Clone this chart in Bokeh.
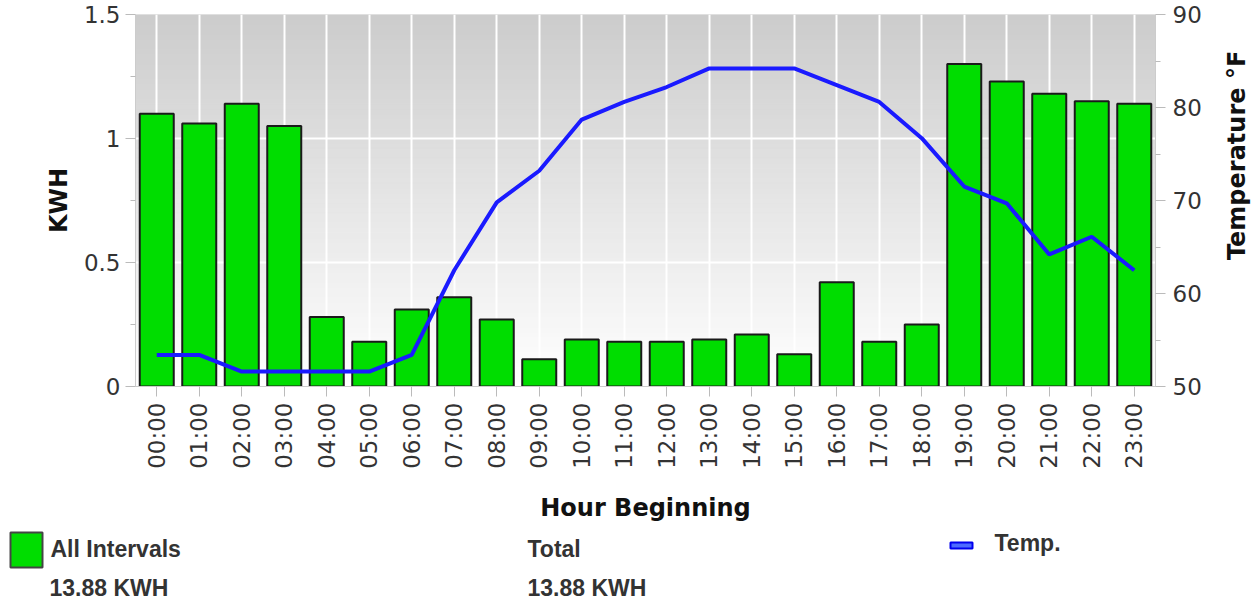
import math
from bokeh.plotting import figure
from bokeh.models import (LinearAxis, Range1d, FixedTicker, CustomJSTickFormatter,
                          FactorRange, ColumnDataSource)
from bokeh.layouts import column, row
from bokeh.core.properties import value
from bokeh.embed import file_html
from bokeh.resources import INLINE

# ---------------- data ----------------
hours = ["00:00", "01:00", "02:00", "03:00", "04:00", "05:00", "06:00", "07:00",
         "08:00", "09:00", "10:00", "11:00", "12:00", "13:00", "14:00", "15:00",
         "16:00", "17:00", "18:00", "19:00", "20:00", "21:00", "22:00", "23:00"]
kwh = [1.10, 1.06, 1.14, 1.05, 0.28, 0.18, 0.31, 0.36, 0.27, 0.11, 0.19, 0.18,
       0.18, 0.19, 0.21, 0.13, 0.42, 0.18, 0.25, 1.30, 1.23, 1.18, 1.15, 1.14]
temps = [53.4, 53.4, 51.6, 51.6, 51.6, 51.6, 53.4, 62.5, 69.8, 73.2, 78.7, 80.6,
         82.2, 84.2, 84.2, 84.2, 82.4, 80.6, 76.7, 71.5, 69.7, 64.2, 66.1, 62.5]
kwh_ticks = [0, 0.5, 1, 1.5]
kwh_minor = [0.25, 0.75, 1.25]
temp_ticks = [50, 60, 70, 80, 90]
temp_minor = [55, 65, 75, 85]
series_name = "All Intervals"
total_label = "Total"
total_kwh = "13.88 KWH"
line_name = "Temp."
temp_title = "Temperature °F"

# ---------------- style ----------------
W = 1252
STRIP_W = 40
MAIN_H = 528
LEG_H = 72
TICK_FONT = "DejaVu Sans"
TITLE_FONT = "DejaVu Sans"
LEG_FONT = "Liberation Sans"
GREEN = "#00dd00"
BLUE = "#1a1aff"

p = figure(width=W - STRIP_W, height=MAIN_H, x_range=FactorRange(factors=hours),
           y_range=Range1d(0, 1.5), toolbar_location=None, output_backend="svg",
           min_border_left=135, min_border_right=W - STRIP_W - 1155,
           min_border_top=14, min_border_bottom=MAIN_H - 386)
p.extra_y_ranges = {"temp": Range1d(50, 90)}
p.outline_line_color = None
p.background_fill_color = "white"
p.border_fill_color = "white"

# gradient background (decoration)
n_steps = 75
band_y = []
band_c = []
for i in range(n_steps):
    f = (i + 0.5) / n_steps
    band_y.append(1.5 * f)
    g = int(round(255 - (255 - 204) * f))
    band_c.append("#%02x%02x%02x" % (g, g, g))
p.hbar(y=band_y, height=1.5 / n_steps * 1.02, left=0, right=len(hours),
       color=band_c, level="image")

# grid
p.xgrid.grid_line_color = "white"
p.xgrid.grid_line_width = 2
ticker_l = FixedTicker(ticks=kwh_ticks, minor_ticks=kwh_minor)
p.yaxis.ticker = ticker_l
p.ygrid.ticker = ticker_l
p.ygrid.grid_line_color = "white"
p.ygrid.grid_line_width = 2

# bars and line
p.vbar(x=hours, top=kwh, width=0.8, fill_color=GREEN, line_color="#1a1a1a",
       line_width=2)
p.line(x=hours, y=temps, y_range_name="temp", line_color=BLUE, line_width=4)

# left axis
ya = p.yaxis[0]
ya.formatter = CustomJSTickFormatter(code="return String(tick);")
ya.axis_label = "KWH"

# right axis
ra = LinearAxis(y_range_name="temp",
                ticker=FixedTicker(ticks=temp_ticks, minor_ticks=temp_minor))
p.add_layout(ra, "right")

xa = p.xaxis[0]
xa.axis_label = "Hour Beginning"
xa.major_label_orientation = math.pi / 2

for ax in [ya, ra, xa]:
    ax.axis_line_color = "#cccccc"
    ax.axis_line_width = 1
    ax.major_tick_line_color = "#bbbbbb"
    ax.minor_tick_line_color = "#bbbbbb"
    ax.major_tick_out = 10
    ax.major_tick_in = 0
    ax.minor_tick_out = 5
    ax.minor_tick_in = 0
    ax.major_label_text_font = TICK_FONT
    ax.major_label_text_font_size = "23px"
    ax.major_label_text_color = "#333333"
    ax.axis_label_text_font = TITLE_FONT
    ax.axis_label_text_font_size = "24px"
    ax.axis_label_text_font_style = "bold"
    ax.axis_label_text_color = "#111111"
ya.major_label_standoff = 5
ra.major_label_standoff = 7
xa.major_label_standoff = 6
ya.axis_label_standoff = 8
xa.axis_label_standoff = 22

# ---------------- right title strip ----------------
s = figure(width=STRIP_W, height=MAIN_H, x_range=Range1d(0, STRIP_W),
           y_range=Range1d(0, MAIN_H), toolbar_location=None,
           output_backend="svg", min_border=0)
s.axis.visible = False
s.grid.visible = False
s.outline_line_color = None
s.background_fill_color = "white"
s.border_fill_color = "white"
s.text(x=[24], y=[MAIN_H - 200], text=[temp_title], angle=math.pi / 2,
       text_font=value(TITLE_FONT), text_font_size="24px",
       text_font_style="bold", text_color="#111111",
       text_align="center", text_baseline="middle")

# ---------------- legend strip ----------------
q = figure(width=W, height=LEG_H, x_range=Range1d(0, W), y_range=Range1d(LEG_H, 0),
           toolbar_location=None, output_backend="svg", min_border=0)
q.axis.visible = False
q.grid.visible = False
q.outline_line_color = None
q.background_fill_color = "white"
q.border_fill_color = "white"

q.quad(left=[10], right=[42], top=[4], bottom=[39], fill_color=GREEN,
       line_color="#444444", line_width=2)
q.quad(left=[950], right=[972], top=[14], bottom=[20], fill_color="#4d6bff",
       line_color="#0000ee", line_width=2)

leg_src = ColumnDataSource(dict(
    x=[50, 49, 527, 527, 994],
    y=[20, 59, 20, 59, 14],
    t=[series_name, total_kwh, total_label, total_kwh, line_name]))
q.text(x="x", y="y", text="t", source=leg_src, text_font=value(LEG_FONT),
       text_font_size="23px", text_font_style="bold", text_color="#333333",
       text_baseline="middle", text_align="left")

layout = column(row(p, s, spacing=0), q, spacing=0)
open("out.html", "w").write(file_html(layout, INLINE))
